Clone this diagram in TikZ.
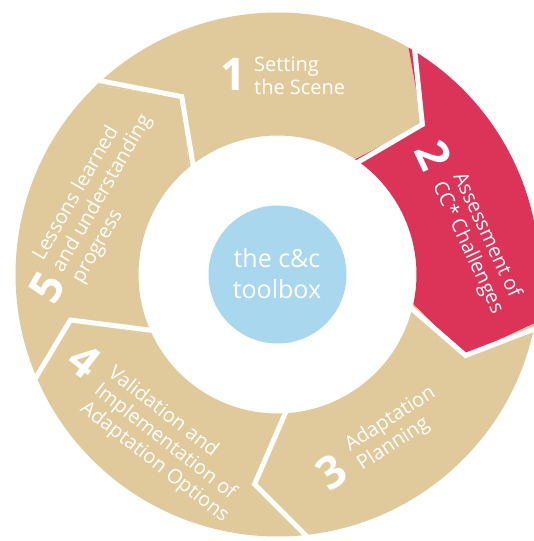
\documentclass[tikz,border=0pt]{standalone}
\usepackage{fontspec}
\setmainfont{Open Sans}
\definecolor{beige}{HTML}{E0CA9B}
\definecolor{crim}{HTML}{DC3459}
\definecolor{sky}{HTML}{A9D7EE}
\begin{document}
\begin{tikzpicture}[x=1pt,y=1pt,
  gap/.style={draw=white,line width=5pt,line join=miter},
  lbl/.style={anchor=base west,inner sep=0pt,text=white,font=\fontsize{20}{22}\selectfont},
  num/.style={anchor=center,inner sep=0pt,text=white,font=\fontsize{45}{45}\selectfont\bfseries},
  ctr/.style={anchor=base,inner sep=0pt,text=white,font=\fontsize{25}{30}\selectfont}]
\useasboundingbox (0,0) rectangle (534,541);
\fill[white] (0,0) rectangle (534,541);
\clip (0,0) rectangle (534,541);
\begin{scope}[shift={(277.5,266.5)}]
 % segment 1
 \fill[beige] (133.9:262) arc[start angle=133.9,end angle=60,radius=262] -- (46:208.6) -- (56:139)
   arc[start angle=56,end angle=129.6,radius=139] -- (118.3:202) -- cycle;
 % segment 2
 \fill[crim] (60:262) arc[start angle=60,end angle=-10.7,radius=262] -- (-23.3:204.7) -- (-12.4:139)
   arc[start angle=-12.4,end angle=56,radius=139] -- (46:208.6) -- cycle;
 % segment 3
 \fill[beige] (-10.7:262) arc[start angle=-10.7,end angle=-82.2,radius=262] -- (-96.25:211) -- (-84.8:139)
   arc[start angle=-84.8,end angle=-12.4,radius=139] -- (-23.3:204.7) -- cycle;
 % segment 4
 \fill[beige] (-82.2:262) arc[start angle=-82.2,end angle=-155.5,radius=262] -- (-167.6:212) -- (-154:139)
   arc[start angle=-154,end angle=-84.8,radius=139] -- (-96.25:211) -- cycle;
 % segment 5
 \fill[beige] (-155.5:262) arc[start angle=-155.5,end angle=-226.1,radius=262] -- (-241.7:202) -- (-230.4:139)
   arc[start angle=-230.4,end angle=-154,radius=139] -- (-167.6:212) -- cycle;
 % white gaps
 \draw[gap] (133.9:272) -- (118.3:202) -- (129.6:130);
 \draw[gap] (60:272) -- (46:208.6) -- (56:130);
 \draw[gap] (-10.7:272) -- (-23.3:204.7) -- (-12.4:130);
 \draw[gap] (-82.2:272) -- (-96.25:211) -- (-84.8:130);
 \draw[gap] (-155.5:272) -- (-167.6:212) -- (-154:130);
 % hub
 \node[circle,fill=sky,minimum size=138pt,inner sep=0pt] (hub) at (0,0) {};
\end{scope}
% centre text
\node[ctr] (c1) at (277,273.6) {the c\&c};
\node[ctr] (c2) at (277,242) {toolbox};
% 1
\node[num] (n1) at (233.5,466.5) {1};
\node[lbl] (t1a) at (254,469) {Setting};
\node[lbl] (t1b) at (254,446.5) {the Scene};
% 2
\node[num,rotate=-65] (n2) at (434,386) {2};
\begin{scope}[shift={(453,365)},rotate=-65,transform shape]
 \node[lbl] (t2a) at (0,0) {Assessment of};
 \node[lbl] (t2b) at (0,-22.5) {CC* Challenges};
\end{scope}
% 3
\node[num,rotate=33] (n3) at (332,69) {3};
\begin{scope}[shift={(350,89)},rotate=33,transform shape]
 \node[lbl] (t3a) at (0,0) {Adaptation};
 \node[lbl] (t3b) at (0,-22.5) {Planning};
\end{scope}
% 4
\node[num,rotate=-38] (n4) at (85,180) {4};
\begin{scope}[shift={(107,166)},rotate=-38,transform shape]
 \node[lbl] (t4a) at (0,0) {Validation and};
 \node[lbl] (t4b) at (0,-22.5) {Implementation of};
 \node[lbl] (t4c) at (0,-45) {Adaptation Options};
\end{scope}
% 5
\node[num,rotate=60] (n5) at (47,254) {5};
\begin{scope}[shift={(43,279)},rotate=60,transform shape]
 \node[lbl] (t5a) at (0,0) {Lessons learned};
 \node[lbl] (t5b) at (0,-22.5) {and understanding};
 \node[lbl] (t5c) at (0,-45) {progress};
\end{scope}
\end{tikzpicture}
\end{document}
